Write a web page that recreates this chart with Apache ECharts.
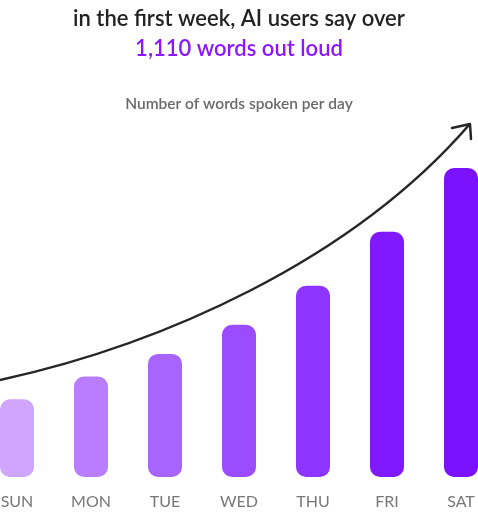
<!DOCTYPE html>
<html>
<head>
<meta charset="utf-8">
<script src="https://cdn.jsdelivr.net/npm/echarts@6/dist/echarts.min.js"></script>
<style>
  html, body { margin: 0; padding: 0; background: #fff; }
  #chart { width: 478px; height: 517px; }
</style>
</head>
<body>
<div id="chart"></div>
<script>
// 数据
const days = ['SUN', 'MON', 'TUE', 'WED', 'THU', 'FRI', 'SAT']
const wordsPerDay = [72, 93, 114, 141, 177, 227, 286]
const barColors = ['#cfa5fe', '#b97eff', '#a764ff', '#9a4cfe', '#8d35fe', '#8019fe', '#7a12fe']

const chart = echarts.init(document.getElementById('chart'))

const option = {
  backgroundColor: '#fff',
  animation: false,
  title: [
    {
      text: 'in the first week, AI users say over',
      left: 'center',
      top: 3,
      textStyle: { fontFamily: 'Lato', fontSize: 22, fontWeight: 600, color: '#222' }
    },
    {
      text: '1,110 words out loud',
      left: 'center',
      top: 33,
      textStyle: { fontFamily: 'Lato', fontSize: 22, fontWeight: 600, color: '#8a17ff' }
    },
    {
      text: 'Number of words spoken per day',
      left: 'center',
      top: 91,
      textStyle: { fontFamily: 'Lato', fontSize: 15.5, fontWeight: 600, color: '#6a6a6a' }
    }
  ],
  grid: {
    left: -20,
    right: -20,
    top: 153,
    bottom: 40,
    containLabel: false,
    outerBoundsMode: 'none'
  },
  xAxis: {
    type: 'category',
    data: days,
    axisLine: { show: false },
    axisTick: { show: false },
    axisLabel: { color: '#777', fontFamily: 'Lato', fontSize: 16, margin: 17 }
  },
  yAxis: {
    type: 'value',
    min: 0,
    max: 300,
    show: false,
    splitLine: { show: false }
  },
  series: [
    {
      type: 'bar',
      barWidth: 34,
      data: wordsPerDay.map((v, i) => ({
        value: v,
        itemStyle: { color: barColors[i], borderRadius: 10 }
      }))
    }
  ],
  // 趋势箭头（装饰）
  graphic: [
    {
      type: 'bezierCurve',
      shape: { x1: 0, y1: 380, cpx1: 160, cpy1: 345, cpx2: 350, cpy2: 262, x2: 469, y2: 125 },
      style: { stroke: '#262626', lineWidth: 2.5, fill: null }
    },
    {
      type: 'polyline',
      shape: { points: [[452, 128], [470, 124], [471, 139]] },
      style: { stroke: '#262626', lineWidth: 2.5, fill: null, lineCap: 'round', lineJoin: 'round' }
    }
  ]
}

chart.setOption(option)
</script>
</body>
</html>
